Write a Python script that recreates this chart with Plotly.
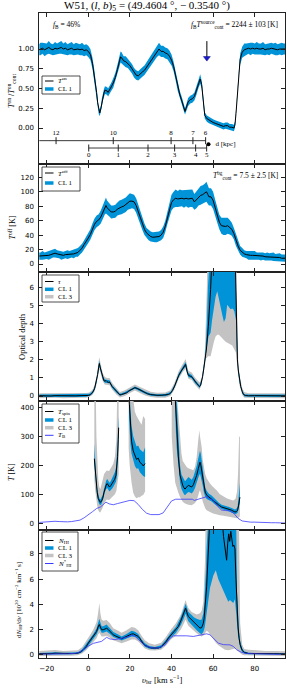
import plotly.graph_objects as go

W, H = 287, 688
SERIF = "Liberation Serif"
SANS = "DejaVu Sans"

# ------------------------------------------------------------------ DATA
x_ticks = [-20, 0, 20, 40, 60, 80]

# Panel 1: T_on/T_on_cont  (v_lsr, value, CL1 half width)
TON = [
 (-23.7,0.99,0.07),(-23,1.00,0.08),(-22,1.01,0.07),(-21,0.99,0.08),(-20,1.00,0.07),
 (-19,1.02,0.08),(-18,1.00,0.07),(-17,0.99,0.07),(-16,1.01,0.08),(-15,1.00,0.07),
 (-14,1.01,0.07),(-13,1.02,0.08),(-12,1.00,0.07),(-11,1.01,0.08),(-10,0.99,0.07),
 (-9,1.00,0.07),(-8,1.01,0.08),(-7,0.99,0.07),(-6,1.00,0.08),(-5,1.00,0.07),
 (-4,0.99,0.07),(-3,1.00,0.08),(-2,0.98,0.07),(-1,0.99,0.07),(0,0.97,0.07),
 (1,0.93,0.07),(2,0.82,0.07),(3,0.66,0.06),(4,0.45,0.05),(4.5,0.32,0.05),
 (5,0.22,0.04),(5.5,0.19,0.04),(6,0.24,0.04),(6.5,0.32,0.05),(7,0.40,0.05),
 (7.5,0.44,0.05),(8,0.48,0.05),(9,0.47,0.05),(9.5,0.45,0.05),(10,0.47,0.05),
 (11,0.52,0.05),(12,0.57,0.06),(13,0.64,0.06),(14,0.74,0.06),(15,0.85,0.07),
 (15.5,0.90,0.07),(16,0.89,0.07),(17,0.85,0.06),(18,0.84,0.07),(19,0.82,0.06),
 (20,0.79,0.06),(21,0.75,0.06),(22,0.70,0.06),(23,0.67,0.06),(24,0.66,0.06),
 (25,0.69,0.06),(26,0.71,0.06),(27,0.73,0.06),(28,0.77,0.06),(29,0.81,0.07),
 (30,0.85,0.07),(31,0.89,0.07),(32,0.93,0.07),(33,0.97,0.07),(34,1.00,0.08),
 (35,0.97,0.07),(36,0.97,0.07),(37,0.95,0.07),(38,0.94,0.07),(39,0.91,0.07),
 (40,0.86,0.07),(41,0.78,0.06),(42,0.66,0.06),(43,0.52,0.05),(44,0.42,0.05),
 (45,0.34,0.05),(46,0.25,0.04),(46.5,0.21,0.04),(47,0.25,0.04),(48,0.33,0.05),
 (49,0.36,0.05),(50,0.37,0.05),(51,0.40,0.05),(52,0.47,0.05),(53,0.56,0.05),
 (53.8,0.62,0.06),(54.5,0.55,0.05),(55,0.42,0.05),(55.5,0.27,0.04),(56,0.16,0.04),
 (57,0.12,0.04),(58,0.10,0.04),(59,0.08,0.04),(60,0.07,0.04),(61,0.06,0.04),
 (62,0.05,0.04),(63,0.04,0.04),(64,0.03,0.04),(65,0.02,0.04),(66,0.03,0.04),
 (67,0.03,0.04),(68,0.01,0.04),(69,0.01,0.04),(70,0.00,0.04),(70.5,0.04,0.04),
 (71,0.18,0.04),(71.5,0.38,0.05),(72,0.58,0.05),(72.5,0.76,0.06),(73,0.87,0.07),
 (74,0.96,0.07),(75,0.99,0.08),(76,1.00,0.07),(77,1.01,0.07),(78,1.00,0.08),
 (79,1.01,0.07),(80,1.00,0.07),(81,1.01,0.08),(82,1.00,0.07),(83,1.00,0.07),
 (84,1.01,0.08),(85,0.99,0.07),(86,1.00,0.07),(87,1.00,0.08),(88,1.01,0.07),
 (89,1.00,0.07),(90,1.00,0.08),(91,0.99,0.07),(92,1.00,0.07),(93,1.00,0.08),
 (94,1.00,0.07),(94.6,1.00,0.07),
]

# kinematic distance scale (far side / near side): (kpc, v_lsr)
DIST_FAR = [(12,-15.5),(10,12.0),(8,39.8),(7,50.3),(6,56.4)]
DIST_NEAR = [(0,0.2),(1,14.4),(2,28.7),(3,41.5),(4,51.6),(5,56.9)]
V_TANGENT = 57.8
V_ARROW = 57.0

# Panel 2: T_off [K]  (v_lsr, value, CL1 half width)
TOFF = [
 (-23.7,11,5),(-23,11,5),(-22,12,6),(-21,11,5),(-20,12,5),(-19,12,6),(-18,13,5),
 (-17,14,5),(-16,15,6),(-15,14,5),(-14,13,5),(-13,12,6),(-12,12,5),(-11,13,5),
 (-10,13,6),(-9,13,5),(-8,14,5),(-7,14,6),(-6,15,5),(-5,16,6),(-4,19,6),(-3,22,6),
 (-2,27,6),(-1,31,7),(0,36,7),(1,41,7),(2,48,8),(3,55,8),(4,59,8),(5,61,8),(6,65,9),
 (7,72,9),(8,79,10),(8.5,81,11),(9,78,10),(10,75,9),(11,72,9),(12,72,9),(13,73,9),
 (14,76,9),(15,78,10),(16,79,10),(17,80,10),(18,82,10),(19,85,10),(20,87,11),
 (21,87,10),(22,86,10),(23,81,10),(24,73,9),(25,65,9),(26,55,8),(27,48,8),(28,43,7),
 (29,40,7),(30,38,7),(31,37,7),(32,37,7),(33,37,7),(34,38,7),(35,40,7),(36,44,8),
 (37,52,8),(38,64,9),(39,76,10),(40,85,11),(41,89,11),(42,91,12),(43,90,11),
 (44,91,12),(45,91,11),(46,90,12),(47,91,11),(48,90,12),(49,91,12),(50,91,12),
 (51,86,11),(52,89,12),(53,93,12),(54,95,13),(55,96,13),(56,98,13),(56.8,100,14),
 (57.5,96,13),(58,93,12),(59,93,12),(60,88,12),(61,78,11),(62,67,10),(63,58,10),
 (64,53,11),(65,52,12),(66,52,12),(67,53,11),(68,51,10),(69,48,9),(70,42,8),
 (71,33,8),(72,25,7),(73,19,6),(74,16,6),(75,14,5),(76,13,5),(77,12,6),(78,12,5),
 (79,12,5),(80,12,6),(81,11,5),(82,11,5),(83,11,6),(84,11,5),(85,10,5),(86,10,6),
 (87,10,5),(88,10,5),(89,10,6),(90,9,5),(91,9,5),(92,9,6),(93,8,5),(94,8,5),(94.6,8,5),
]

# Panel 3: optical depth tau (values above the axis top are saturated)
TAU = [
 (-23.7,0.02),(-22,0.01),(-20,0.02),(-18,0.0),(-16,0.02),(-14,0.01),(-12,0.02),
 (-10,0.01),(-8,0.02),(-6,0.01),(-4,0.02),(-2,0.02),(0,0.03),(1,0.07),(2,0.18),
 (3,0.4),(4,0.85),(4.5,1.2),(5,1.6),(5.3,1.8),(5.8,1.55),(6.4,1.25),(7,1.0),
 (7.5,0.85),(8,0.82),(8.5,0.86),(9,0.8),(9.6,0.75),(10.2,0.78),(11,0.6),(11.5,0.52),
 (12.5,0.4),(13.5,0.25),(14.5,0.12),(15.2,0.06),(16,0.08),(17,0.12),(17.6,0.15),
 (18.5,0.18),(19.5,0.28),(20.5,0.35),(21.5,0.42),(22.4,0.46),(23.5,0.42),(24.9,0.33),
 (26,0.25),(27.3,0.18),(28.5,0.12),(30,0.08),(31.3,0.05),(33,0.04),(35,0.04),
 (37,0.05),(38.5,0.08),(39.5,0.15),(40.5,0.3),(41.5,0.55),(42.5,0.9),(43.5,1.15),
 (44.5,1.35),(45.5,1.55),(46.8,1.75),(47.5,1.35),(48.1,1.15),(49,1.1),(49.7,1.07),
 (50.5,0.95),(51.3,0.8),(52.1,0.7),(53,0.58),(53.5,0.52),(54,0.6),(54.5,0.8),
 (55,1.1),(55.5,1.5),(56.1,2.0),(56.8,2.6),(57.7,3.85),(58.3,4.8),(58.8,5.9),
 (59.2,7.0),(59.6,10),(70.2,10),(70.6,7.5),(71.0,4.5),(71.3,2.9),(71.7,2.0),
 (72.1,1.44),(72.7,0.85),(73.3,0.52),(74,0.25),(74.5,0.1),(75.5,0.03),(77,0.01),
 (80,0.02),(83,0.01),(86,0.02),(89,0.01),(92,0.02),(94.6,0.01),
]
# (v_lsr, lower, upper)
TAU_CL1 = [
 (-23.7,-0.05,0.08),(-20,-0.05,0.08),(-16,-0.04,0.09),(-12,-0.05,0.08),(-8,-0.05,0.08),
 (-4,-0.05,0.08),(-1,-0.04,0.09),(0.5,0.0,0.12),(2,0.12,0.26),(3,0.33,0.48),
 (4,0.75,0.95),(5,1.45,1.75),(5.3,1.65,1.95),(6,1.35,1.55),(7,0.9,1.1),(8,0.73,0.92),
 (9,0.72,0.9),(10.2,0.7,0.87),(11.5,0.45,0.6),(13.5,0.18,0.32),(15.2,0.01,0.12),
 (17.6,0.1,0.22),(20.5,0.29,0.42),(22.4,0.4,0.53),(24.9,0.27,0.4),(27.3,0.12,0.25),
 (30,0.02,0.14),(33,-0.02,0.1),(37,-0.02,0.11),(39.5,0.1,0.22),(41.5,0.48,0.63),
 (43.5,1.05,1.25),(45.5,1.45,1.65),(46.8,1.62,1.88),(48.1,1.05,1.27),(49.7,0.98,1.17),
 (51.3,0.72,0.9),(53.5,0.45,0.6),(54.5,0.72,0.9),(55.5,1.4,1.6),(56.1,1.9,2.15),
 (56.5,2.3,2.9),(57,2.8,4.0),(57.5,3.1,6.0),(57.8,3.3,10),(58.3,3.4,10),(58.8,3.5,10),
 (59.5,4.2,10),(60.4,4.96,10),(61.2,5.5,10),(62.0,5.8,10),(62.8,5.4,10),(63.6,5.0,10),
 (64.4,4.5,10),(65.2,4.1,10),(66.0,4.3,10),(66.8,5.05,10),(67.6,4.96,10),(68.4,4.8,10),
 (69.2,4.85,10),(69.7,4.8,10),(70.2,4.7,10),(70.6,4.6,10),(71.0,4.2,6.0),(71.3,2.7,3.2),
 (71.7,1.85,2.2),(72.1,1.3,1.6),(72.7,0.75,0.95),(73.3,0.45,0.6),(74,0.18,0.32),
 (75,-0.03,0.1),(77,-0.05,0.08),(80,-0.05,0.08),(85,-0.05,0.08),(90,-0.05,0.08),
 (94.6,-0.05,0.08),
]
TAU_CL3 = [
 (-23.7,-0.12,0.15),(-20,-0.12,0.15),(-16,-0.1,0.16),(-12,-0.12,0.15),(-8,-0.12,0.15),
 (-4,-0.1,0.15),(-1,-0.1,0.17),(0.5,-0.05,0.2),(2,0.05,0.35),(3,0.25,0.6),(4,0.65,1.1),
 (5,1.3,1.95),(5.3,1.5,2.15),(6,1.2,1.75),(7,0.8,1.25),(8,0.62,1.05),(9,0.62,1.0),
 (10.2,0.6,1.0),(11.5,0.35,0.72),(13.5,0.08,0.45),(15.2,-0.08,0.22),(17.6,0.0,0.32),
 (20.5,0.2,0.52),(22.4,0.3,0.64),(24.9,0.18,0.5),(27.3,0.03,0.36),(30,-0.06,0.23),
 (33,-0.1,0.18),(37,-0.1,0.2),(39.5,0.0,0.32),(41.5,0.38,0.75),(43.5,0.95,1.4),
 (45.5,1.35,1.8),(46.8,1.5,2.05),(48.1,0.95,1.4),(49.7,0.88,1.3),(51.3,0.62,1.02),
 (53.5,0.35,0.75),(54.5,0.62,1.0),(55.5,1.25,1.8),(56.1,1.7,2.6),(56.5,2.1,4.0),
 (57,2.1,6.0),(57.5,2.2,10),(58.3,2.2,10),(58.8,2.2,10),(59.5,2.6,10),(60.4,3.0,10),
 (61.2,3.3,10),(62.0,3.4,10),(62.8,3.4,10),(63.6,3.3,10),(64.4,3.2,10),(65.2,3.1,10),
 (66.0,3.0,10),(66.8,2.95,10),(67.6,2.9,10),(68.4,2.85,10),(69.2,2.8,10),(69.7,2.7,10),
 (70.2,2.6,10),(70.6,2.5,10),(71.0,2.4,10),(71.3,2.3,6),(71.7,1.6,3.0),(72.1,1.1,1.9),
 (72.7,0.6,1.15),(73.3,0.3,0.8),(74,0.05,0.45),(75,-0.1,0.22),(77,-0.12,0.15),
 (80,-0.12,0.15),(85,-0.12,0.15),(90,-0.12,0.15),(94.6,-0.12,0.15),
]

# Panel 4: spin temperature segments (v_lsr, T_spin)
TSPIN = [
 [(2.9,223),(3.3,180),(3.8,140),(4.3,105),(4.8,85),(5.3,75),(5.8,72),(6.3,76),(6.9,85),
  (7.5,105),(8.0,122),(8.6,132),(9.1,137),(9.6,130),(10.2,125),(10.8,130),(11.5,138),
  (12.0,143),(12.7,152),(13.3,166),(13.8,195),(14.1,230),(14.4,290),(14.6,330)],
 [(19.6,430),(19.9,380),(20.3,320),(20.8,283),(21.6,250),(22.4,232),(23.2,220),
  (24.0,225),(24.8,210),(25.6,206),(26.4,198),(27.3,206)],
 [(41.8,430),(42.2,370),(42.5,321),(43.3,229),(44.1,166),(44.8,140),(45.4,131),
  (46.0,122),(46.5,118),(47.3,125),(48.1,131),(48.9,128),(49.7,125),(50.5,133),
  (51.3,148),(52.1,165),(52.9,189),(53.7,211),(54.1,200),(54.5,183),(55.0,155),
  (55.6,125),(56.2,108),(56.9,97),(58.0,90),(59.3,85),(60.5,76),(61.7,68),(62.9,62),
  (64.1,56),(65.3,54),(66.5,51),(67.7,48),(68.9,45),(69.7,42),(70.5,39),(71.2,40),
  (71.8,45),(72.2,60),(72.6,79),(72.9,90)],
]
TSPIN_CL1 = [
 [(2.9,205,276),(3.3,160,210),(3.8,125,160),(4.3,92,118),(4.8,75,97),(5.3,66,86),
  (5.8,63,82),(6.3,66,88),(6.9,75,97),(7.5,93,117),(8.0,108,137),(8.6,118,148),
  (9.1,122,153),(9.6,116,146),(10.2,110,140),(10.8,114,146),(11.5,120,156),
  (12.0,125,162),(12.7,132,175),(13.3,143,192),(13.8,165,230),(14.1,195,275),
  (14.4,250,340),(14.6,290,370)],
 [(19.6,360,450),(19.9,320,450),(20.3,270,390),(20.8,240,335),(21.6,215,300),
  (22.4,198,280),(23.2,188,265),(24.0,190,268),(24.8,176,255),(25.6,170,250),
  (26.4,163,245),(27.3,160,262)],
 [(41.8,380,450),(42.2,300,450),(42.5,260,420),(43.3,195,280),(44.1,140,200),
  (44.8,118,168),(45.4,108,158),(46.0,100,148),(46.5,97,145),(47.3,103,152),
  (48.1,108,160),(48.9,106,155),(49.7,103,150),(50.5,110,160),(51.3,122,178),
  (52.1,138,198),(52.9,158,225),(53.7,172,250),(54.1,165,240),(54.5,152,220),
  (55.0,130,185),(55.6,105,148),(56.2,92,125),(56.9,84,112),(58.0,79,102),
  (59.3,75,96),(60.5,67,86),(61.7,60,77),(62.9,55,70),(64.1,49,64),(65.3,47,62),
  (66.5,44,59),(67.7,41,56),(68.9,38,53),(69.7,35,50),(70.5,32,48),(71.2,33,50),
  (71.8,36,58),(72.2,45,85),(72.6,60,120),(72.9,70,140)],
]
TSPIN_CL3 = [
 [(2.9,150,450),(3.3,115,450),(3.6,100,450),(3.9,80,300),(4.3,60,200),(4.8,45,150),
  (5.3,38,125),(5.8,38,118),(6.4,45,135),(7.0,55,150),(7.6,68,170),(8.8,82,182),
  (10.0,80,180),(11.2,88,195),(12.0,95,205),(12.8,100,230),(13.5,112,290),
  (13.9,125,450),(14.3,150,450),(14.6,170,450)],
 [(19.4,260,450),(19.9,200,450),(20.8,140,450),(21.6,105,430),(22.4,92,385),
  (23.2,86,370),(24.0,90,360),(24.8,90,345),(25.6,95,340),(26.4,98,370),(27.3,110,360)],
 [(40.1,300,450),(41.0,200,450),(41.8,140,450),(42.5,120,450),(43.3,105,380),
  (44.1,91,300),(44.8,80,240),(45.4,74,215),(46.5,68,200),(47.3,66,194),(48.1,64,190),
  (49.7,62,185),(50.5,66,183),(51.3,70,195),(52.1,79,229),(52.9,95,290),(53.4,110,321),
  (53.7,114,300),(54.5,95,263),(55.0,75,220),(55.6,62,190),(56.2,52,170),(56.9,45,155),
  (58.5,39,137),(60.0,34,125),(61.7,30,114),(63.3,28,100),(65.0,26,91),(66.5,24,86),
  (68.1,22,82),(69.7,20,79),(70.8,18,85),(71.5,17,110),(72.0,17,172),(72.5,20,298),
  (72.9,25,300)],
]
# brightness temperature T_B [K]
TB = [
 (-23.7,3),(-22,4),(-20,4),(-18,5),(-16,7),(-14,6),(-12,5),(-10,5),(-8,6),(-6,8),
 (-4,11),(-2,19),(0,28),(2,40),(4,51),(6,57),(8,70),(8.5,73),(10,67),(12,64),(14,68),
 (16,71),(18,74),(20,79),(22,78),(24,65),(26,48),(28,35),(30,30),(32,29),(34,30),
 (36,36),(38,56),(40,77),(42,83),(44,83),(46,82),(48,83),(50,83),(51,79),(52,81),
 (54,87),(56,90),(57,92),(58,86),(60,80),(62,60),(64,46),(66,44),(68,43),(70,34),
 (72,17),(74,8),(76,5),(78,4),(80,4),(82,3),(84,3),(86,2),(88,2),(90,2),(92,1),(94.6,1),
]

# Panel 5: dN_HI/dv [1e20 cm^-2 km^-1 s]
NHI = [
 (-23.7,0.08),(-22,0.07),(-20,0.09),(-18,0.08),(-16,0.12),(-14,0.1),(-12,0.08),
 (-10,0.08),(-8,0.09),(-6,0.1),(-5,0.12),(-4,0.18),(-2.4,0.4),(-1,0.65),(0,0.92),
 (1,1.15),(2.4,1.45),(3.2,1.62),(4.0,1.85),(4.7,2.2),(5.3,2.4),(5.8,2.2),(6.4,1.98),
 (7.2,1.98),(8.0,2.05),(8.8,2.1),(9.6,2.0),(10.4,1.85),(11.2,1.72),(12.0,1.58),
 (13.2,1.48),(14.4,1.4),(15.2,1.33),(16.0,1.27),(16.8,1.33),(17.6,1.4),(18.4,1.45),
 (19.2,1.5),(20.0,1.57),(20.8,1.64),(21.6,1.66),(22.4,1.6),(23.2,1.55),(24.0,1.45),
 (24.8,1.28),(25.6,1.06),(26.4,0.88),(27.2,0.75),(28.1,0.66),(29.3,0.58),(30.5,0.53),
 (32,0.52),(33.7,0.53),(35,0.62),(36.1,0.79),(37.3,1.02),(38.5,1.32),(39.7,1.55),
 (40.9,1.72),(42.1,1.95),(43.3,2.24),(44.5,2.7),(45.7,3.17),(46.3,3.45),(46.8,3.7),
 (47.4,3.35),(48.1,3.03),(48.9,2.9),(49.7,2.77),(50.9,2.55),(52.1,2.38),(52.9,2.22),
 (53.7,2.11),(54.5,2.15),(55.3,2.5),(55.7,2.9),(56.1,3.56),(56.5,4.4),(56.9,5.4),
 (57.3,6.8),(57.7,8.1),(58.1,9.6),(58.5,11),(64,11),(64.5,10.5),(65,9.4),(65.5,8.6),
 (66,8.0),(66.5,7.5),(67,8.8),(67.5,9.6),(68,9.0),(68.5,9.8),(69,9.2),(69.5,8.6),
 (70,8.7),(70.5,8.4),(71,6.0),(71.5,3.8),(72,2.2),(72.5,1.3),(73,0.8),(74,0.35),
 (75,0.18),(77,0.1),(80,0.08),(83,0.09),(86,0.07),(89,0.08),(92,0.07),(94.6,0.06),
]
NHI_CL1 = [
 (-23.7,0.02,0.14),(-20,0.03,0.15),(-16,0.06,0.2),(-12,0.03,0.15),(-8,0.03,0.15),
 (-5,0.05,0.2),(-3,0.2,0.42),(-1,0.5,0.85),(0,0.75,1.1),(1,0.97,1.35),(2.4,1.25,1.65),
 (4,1.6,2.1),(4.7,1.9,2.5),(5.3,2.1,2.85),(5.8,1.95,2.55),(6.4,1.75,2.25),(7.2,1.75,2.25),
 (8.8,1.85,2.4),(10.4,1.65,2.1),(12,1.4,1.8),(14.4,1.25,1.6),(16,1.13,1.45),
 (18.4,1.28,1.65),(20.8,1.45,1.9),(22.4,1.42,1.82),(24,1.28,1.65),(25.6,0.92,1.22),
 (27.2,0.63,0.9),(29.3,0.48,0.7),(32,0.44,0.62),(35,0.52,0.75),(37.3,0.88,1.18),
 (39.7,1.38,1.75),(42.1,1.72,2.2),(44.5,2.35,3.0),(45.7,2.8,3.55),(46.8,3.25,4.05),
 (47.4,2.95,3.75),(48.1,2.65,3.4),(49.7,2.4,3.15),(50.9,2.15,2.95),(52.1,1.95,2.85),
 (53.7,1.7,2.75),(54.5,1.62,2.8),(55.3,1.8,3.3),(55.7,2.0,3.9),(56.1,2.3,5.0),
 (56.5,2.7,6.5),(56.9,3.2,8.5),(57.3,3.7,12),(57.7,4.2,12),(58.1,4.8,12),(58.5,5.3,12),
 (59.3,5.8,12),(60.1,6.3,12),(61.3,6.7,12),(62.5,6.0,12),(64.1,5.4,12),(65.7,4.75,12),
 (67.3,4.2,12),(68.1,4.35,12),(69.7,4.1,12),(70.5,4.4,12),(71,3.6,12),(71.5,2.5,5.0),
 (72,1.5,3.0),(72.5,0.9,1.8),(73,0.55,1.1),(74,0.2,0.5),(75,0.1,0.28),(77,0.04,0.16),
 (80,0.02,0.14),(85,0.03,0.13),(90,0.02,0.12),(94.6,0.01,0.11),
]
NHI_CL3 = [
 (-23.7,-0.1,0.3),(-20,-0.08,0.32),(-16,-0.05,0.38),(-12,-0.08,0.3),(-8,-0.08,0.3),
 (-5,-0.05,0.35),(-3,0.1,0.6),(-1,0.35,1.05),(0,0.55,1.35),(1,0.75,1.6),(2.4,1.0,2.0),
 (4,1.3,2.6),(4.7,1.6,3.3),(5.3,1.75,4.1),(5.8,1.6,3.3),(6.4,1.45,2.8),(7.2,1.45,2.7),
 (8.8,1.5,2.75),(10.4,1.35,2.5),(12,1.15,2.1),(14.4,1.0,1.9),(16,0.9,1.75),
 (18.4,1.05,1.95),(20.8,1.2,2.2),(22.4,1.2,2.15),(24,1.05,1.95),(25.6,0.75,1.5),
 (27.2,0.5,1.15),(29.3,0.35,0.9),(32,0.33,0.8),(35,0.4,0.95),(37.3,0.72,1.4),
 (39.7,1.2,2.0),(42.1,1.5,2.5),(44.5,2.0,3.2),(45.7,2.4,3.9),(46.8,2.8,4.35),
 (47.4,2.55,4.0),(48.1,2.3,3.7),(49.7,2.1,3.4),(50.9,1.9,3.3),(52.1,1.7,3.2),
 (53.7,1.5,3.3),(54.5,1.45,3.5),(55.3,1.5,4.2),(55.7,1.6,5.5),(56.1,1.7,7.5),
 (56.5,1.8,12),(56.9,1.9,12),(57.3,1.9,12),(57.7,1.8,12),(58.1,1.7,12),(58.5,1.6,12),
 (59.3,1.4,12),(60.1,1.2,12),(61.3,0.95,12),(62.5,0.75,12),(64.1,0.55,12),
 (65.7,0.4,12),(67.3,0.35,12),(68.1,0.35,12),(69.7,0.45,12),(70.5,0.5,12),(71,0.45,12),
 (71.5,0.4,12),(72,0.35,12),(72.5,0.25,10),(73,0.15,2.5),(74,0.0,0.8),(75,-0.05,0.45),
 (77,-0.08,0.4),(80,-0.08,0.35),(85,-0.08,0.3),(90,-0.1,0.3),(94.6,-0.1,0.28),
]
# N_HI* (optically thin column density)
NSTAR = [
 (-23.7,0.04),(-22,0.05),(-20,0.06),(-18,0.07),(-16,0.1),(-14,0.08),(-12,0.07),
 (-10,0.07),(-8,0.08),(-6,0.11),(-4,0.22),(-2.4,0.43),(0,0.68),(2.4,0.9),(4.8,1.0),
 (6.4,1.06),(8.8,1.38),(10.4,1.25),(12.8,1.2),(15.2,1.3),(18.4,1.38),(20.8,1.55),
 (22.4,1.47),(24.9,1.08),(27.3,0.72),(30.5,0.54),(33.7,0.53),(36.9,0.78),(39.3,1.3),
 (40.9,1.5),(44.1,1.51),(47.3,1.5),(50.5,1.45),(52.1,1.5),(54.5,1.58),(56.9,1.66),
 (58.5,1.58),(60.1,1.32),(62.5,0.92),(64.9,0.8),(68.1,0.78),(69.7,0.66),(71.3,0.4),
 (73.7,0.18),(76,0.1),(79.3,0.08),(85,0.05),(90,0.03),(94.6,0.02),
]

# ------------------------------------------------------------------ STYLE
BLUE = "#0093d8"
GRAY = "#c3c3c3"
TBC = "#3a3aff"
AX = "#222222"
X0, X1 = 39.3, 285.0
PANELS = [(13.3, 164.3), (164.3, 271.7), (271.7, 400.7), (400.7, 530.0), (530.0, 658.3)]
YRANGES = [(-0.459, 1.452), (-10.66, 138.0), (-0.26, 6.886), (-23.1, 422.8), (-0.286, 9.905)]
XRANGE = [-23.56, 94.57]

fig = go.Figure()

def ax(i):
    return ("x" if i == 1 else f"x{i}"), ("y" if i == 1 else f"y{i}")

def line(pts, i, color="black", width=1.0):
    xa, ya = ax(i)
    v, y = zip(*pts)
    fig.add_trace(go.Scatter(x=list(v), y=list(y), mode="lines", xaxis=xa, yaxis=ya,
                             line=dict(color=color, width=width), hoverinfo="skip"))

def band(pts, i, color):
    xa, ya = ax(i)
    v, lo, hi = zip(*pts)
    fig.add_trace(go.Scatter(x=list(v) + list(v)[::-1], y=list(hi) + list(lo)[::-1],
                             mode="lines", fill="toself", fillcolor=color, xaxis=xa, yaxis=ya,
                             line=dict(width=0, color=color), hoverinfo="skip"))

def err_band(pts, i, color):
    band([(v, y - e, y + e) for v, y, e in pts], i, color)

# Panel 1
err_band(TON, 1, BLUE)
line([(v, y) for v, y, e in TON], 1)
# distance scales
yf, yn = -0.16, -0.253
line([(XRANGE[0] - 1, yf), (DIST_FAR[-1][1], yf)], 1, AX, 0.9)
line([(DIST_NEAR[0][1], yn), (DIST_NEAR[-1][1], yn)], 1, AX, 0.9)
fig.add_trace(go.Scatter(x=[d[1] for d in DIST_FAR], y=[yf] * len(DIST_FAR), mode="markers+text",
                         text=[str(d[0]) for d in DIST_FAR], textposition="top center",
                         textfont=dict(family=SERIF, size=7, color="black"),
                         marker=dict(symbol="line-ns", size=5, color=AX, line=dict(color=AX, width=1)),
                         xaxis="x", yaxis="y", hoverinfo="skip"))
fig.add_trace(go.Scatter(x=[d[1] for d in DIST_NEAR], y=[yn] * len(DIST_NEAR), mode="markers+text",
                         text=[str(d[0]) for d in DIST_NEAR], textposition="bottom center",
                         textfont=dict(family=SERIF, size=7, color="black"),
                         marker=dict(symbol="line-ns", size=5, color=AX, line=dict(color=AX, width=1)),
                         xaxis="x", yaxis="y", hoverinfo="skip"))
fig.add_trace(go.Scatter(x=[V_TANGENT], y=[(yf + yn) / 2], mode="markers+text", text=["  d [kpc]"],
                         textposition="middle right", textfont=dict(family=SERIF, size=7, color="black"),
                         marker=dict(symbol="circle", size=4, color="black"),
                         xaxis="x", yaxis="y", hoverinfo="skip"))
# arrow marking the tangent velocity
line([(V_ARROW, 1.10), (V_ARROW, 0.90)], 1, "black", 1.0)
fig.add_trace(go.Scatter(x=[V_ARROW], y=[0.885], mode="markers",
                         marker=dict(symbol="triangle-down", size=6, color="#1a1ad0",
                                     line=dict(color="#000080", width=0.5)),
                         xaxis="x", yaxis="y", hoverinfo="skip"))

# Panel 2
err_band(TOFF, 2, BLUE)
line([(v, y) for v, y, e in TOFF], 2)

# Panel 3
band(TAU_CL3, 3, GRAY)
band(TAU_CL1, 3, BLUE)
line(TAU, 3)

# Panel 4
for seg in TSPIN_CL3:
    band(seg, 4, GRAY)
for seg in TSPIN_CL1:
    band(seg, 4, BLUE)
for seg in TSPIN:
    line(seg, 4)
line(TB, 4, TBC, 0.8)

# Panel 5
band(NHI_CL3, 5, GRAY)
band(NHI_CL1, 5, BLUE)
line(NHI, 5)
line(NSTAR, 5, TBC, 0.8)

# ------------------------------------------------------------------ AXES
layout = dict(width=W, height=H, margin=dict(l=0, r=0, t=0, b=0), showlegend=False,
              paper_bgcolor="white", plot_bgcolor="white")
ytickvals = [[0, 0.25, 0.5, 0.75, 1.0], [0, 20, 40, 60, 80, 100, 120], [0, 1, 2, 3, 4, 5, 6],
             [0, 100, 200, 300, 400], [0, 2, 4, 6, 8]]
yticktext = [["0.00", "0.25", "0.50", "0.75", "1.00"], None, None, None, None]
for i in range(1, 6):
    top, bot = PANELS[i - 1]
    xk = "xaxis" if i == 1 else f"xaxis{i}"
    yk = "yaxis" if i == 1 else f"yaxis{i}"
    xa, ya = ax(i)
    layout[xk] = dict(domain=[X0 / W, X1 / W], range=XRANGE, anchor=ya, tickvals=x_ticks,
                      showticklabels=(i == 5), ticks="inside", ticklen=4, tickcolor=AX,
                      showline=True, linecolor=AX, linewidth=1, mirror="ticks",
                      showgrid=False, zeroline=False, ticklabelstandoff=3,
                      tickfont=dict(family=SANS, size=7, color="black"))
    if i > 1:
        layout[xk]["matches"] = "x"
    yd = dict(domain=[1 - bot / H, 1 - top / H], range=list(YRANGES[i - 1]), anchor=xa,
              tickvals=ytickvals[i - 1], ticks="inside", ticklen=4, tickcolor=AX,
              showline=True, linecolor=AX, linewidth=1, mirror="ticks",
              showgrid=False, zeroline=False, ticklabelstandoff=3,
              tickfont=dict(family=SANS, size=7, color="black"))
    if yticktext[i - 1]:
        yd["ticktext"] = yticktext[i - 1]
    layout[yk] = yd
fig.update_layout(**layout)

# ------------------------------------------------------------------ TEXT
def px(x, y):
    return x / W, 1 - y / H

def text(x, y, s, size=7, anchor="center", angle=0, family=SERIF):
    xp, yp = px(x, y)
    fig.add_annotation(x=xp, y=yp, xref="paper", yref="paper", text=s, showarrow=False,
                       xanchor=anchor, yanchor="middle", textangle=angle,
                       font=dict(family=family, size=size, color="black"))

text(147, 6.5, "W51, (<i>l</i>, <i>b</i>)<sub>5</sub> = (49.4604 °, − 0.3540 °)", size=11)
text(51, 25, "<i>f</i><sub>B</sub> = 46%", size=7.5, anchor="left")
text(280, 25, "<i>f</i><sub>B</sub><i>T</i><sup>source</sup><sub>cont</sub> = 2244 ± 103 [K]", size=7.5, anchor="right")
text(280, 175, "<i>T</i><sup>bg</sup><sub>cont</sub> = 7.5 ± 2.5 [K]", size=7.5, anchor="right")

# y-axis titles
text(11, 91, "<i>T</i><sup>on</sup> /<i>T</i><sup>on</sup><sub>cont</sub>", size=8, angle=-90)
text(11.5, 228, "<i>T</i><sup>off</sup> [K]", size=8, angle=-90)
text(22, 337, "Optical depth", size=8.5, angle=-90)
text(11, 472, "<i>T</i> [K]", size=8, angle=-90)
text(18, 600, "d<i>N</i><sub>HI</sub>/d<i>v</i> [10<sup>20</sup> cm<sup>−2</sup> km<sup>−1</sup> s]",
     size=7, angle=-90)
# x-axis title
text(162, 679, "<i>υ</i><sub>lsr</sub> [km s<sup>−1</sup>]", size=8.5)

# legends (drawn as framed boxes)
shapes = []
def legend(box, entries):
    x0, y0, x1, y1 = box
    shapes.append(dict(type="rect", xref="paper", yref="paper", x0=x0 / W, x1=x1 / W,
                       y0=1 - y1 / H, y1=1 - y0 / H, line=dict(color=AX, width=0.8),
                       fillcolor="white", layer="above"))
    for ypx, label, color, width in entries:
        shapes.append(dict(type="line", xref="paper", yref="paper", x0=45 / W, x1=53.5 / W,
                           y0=1 - ypx / H, y1=1 - ypx / H, line=dict(color=color, width=width),
                           layer="above"))
        text(56, ypx, label, size=7, anchor="left")

legend((42, 76, 80, 94), [(81, "<i>T</i><sup>on</sup>", "black", 1), (89, "CL 1", BLUE, 3.5)])
legend((42, 167, 80, 191), [(173, "<i>T</i><sup>off</sup>", "black", 1), (183, "CL 1", BLUE, 3.5)])
legend((42, 275, 79, 302), [(281.5, "<i>τ</i>", "black", 1), (289.3, "CL 1", BLUE, 3.5),
                            (296.7, "CL 3", GRAY, 3.5)])
legend((42, 404, 79, 443), [(411.5, "<i>T</i><sub>spin</sub>", "black", 1), (420, "CL 1", BLUE, 3.5),
                            (427.7, "CL 3", GRAY, 3.5), (435.3, "<i>T</i><sub>B</sub>", TBC, 1)])
legend((42, 532, 78, 571), [(540.5, "<i>N</i><sub>HI</sub>", "black", 1), (548, "CL 1", BLUE, 3.5),
                            (555.5, "CL 3", GRAY, 3.5), (563.5, "<i>N</i><sup>*</sup><sub>HI</sub>", TBC, 1)])
fig.update_layout(shapes=shapes)

fig.write_html("out.html", config={"displayModeBar": False, "staticPlot": True},
               post_script="document.body.style.margin='0px';document.body.style.overflow='hidden';")
